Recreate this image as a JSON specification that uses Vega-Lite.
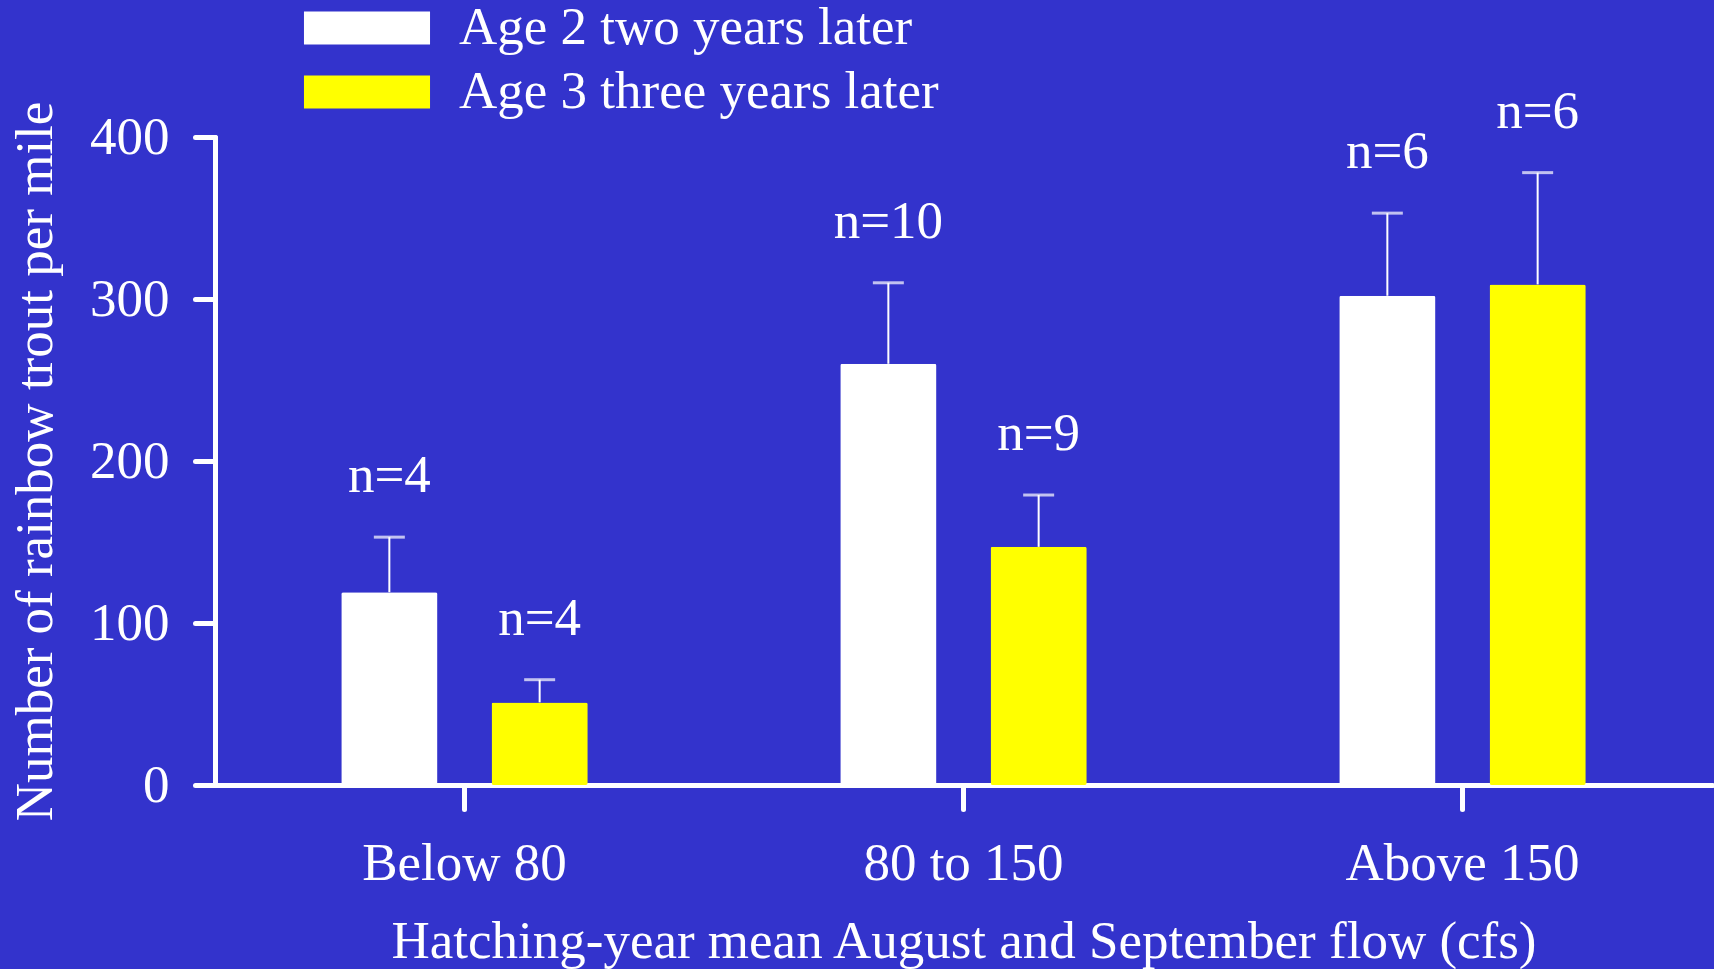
{
  "$schema": "https://vega.github.io/schema/vega-lite/v6.json",
  "width": 1497,
  "height": 648,
  "autosize": {"type": "none"},
  "padding": {"left": 215, "top": 137, "right": 2, "bottom": 184},
  "background": "#3333cc",
  "config": {
    "view": {"stroke": null},
    "font": "Liberation Serif",
    "axis": {
      "domainColor": "white", "domainWidth": 5, "domainCap": "round",
      "tickColor": "white", "tickWidth": 5, "tickCap": "round",
      "labelColor": "white", "labelFont": "Liberation Serif", "labelFontSize": 53, "labelLimit": 0,
      "titleColor": "white", "titleFont": "Liberation Serif", "titleFontSize": 53, "titleFontWeight": "normal", "titleLimit": 0,
      "grid": false
    }
  },
  "data": {
    "values": [
      {"flow": "Below 80", "group": "Age 2 two years later", "mean": 119, "upper": 153, "n": "n=4"},
      {"flow": "Below 80", "group": "Age 3 three years later", "mean": 51, "upper": 65, "n": "n=4"},
      {"flow": "80 to 150", "group": "Age 2 two years later", "mean": 260, "upper": 310, "n": "n=10"},
      {"flow": "80 to 150", "group": "Age 3 three years later", "mean": 147, "upper": 179, "n": "n=9"},
      {"flow": "Above 150", "group": "Age 2 two years later", "mean": 302, "upper": 353, "n": "n=6"},
      {"flow": "Above 150", "group": "Age 3 three years later", "mean": 309, "upper": 378, "n": "n=6"}
    ]
  },
  "encoding": {
    "x": {
      "field": "flow", "type": "nominal", "sort": ["Below 80", "80 to 150", "Above 150"],
      "scale": {"paddingInner": 0, "paddingOuter": 0},
      "axis": {"title": "Hatching-year mean August and September flow (cfs)", "labelAngle": 0, "tickSize": 24, "labelPadding": 28, "titlePadding": 25}
    },
    "xOffset": {
      "field": "group", "type": "nominal",
      "scale": {"paddingInner": 0.36, "paddingOuter": 0.84}
    }
  },
  "layer": [
    {
      "mark": {"type": "bar", "cornerRadius": 2},
      "encoding": {
        "y": {
          "field": "mean", "type": "quantitative",
          "scale": {"domain": [0, 400], "nice": false},
          "axis": {"title": "Number of rainbow trout per mile", "values": [0, 100, 200, 300, 400], "tickSize": 20, "labelPadding": 26, "titlePadding": 27}
        },
        "color": {
          "field": "group", "type": "nominal",
          "scale": {"domain": ["Age 2 two years later", "Age 3 three years later"], "range": ["#ffffff", "#ffff00"]},
          "legend": {
            "title": null, "orient": "none", "legendX": 125.5, "legendY": -135.5,
            "symbolType": "M-3.82,-1L3.82,-1L3.82,1L-3.82,1Z",
            "symbolSize": 1089, "symbolStrokeWidth": 0, "symbolOpacity": 1,
            "labelFontSize": 53, "labelColor": "white", "labelFont": "Liberation Serif",
            "labelOffset": 65.5, "labelLimit": 0, "rowPadding": 10
          }
        }
      }
    },
    {
      "mark": {"type": "rule", "color": "white", "strokeWidth": 2},
      "encoding": {
        "y": {"field": "mean", "type": "quantitative"},
        "y2": {"field": "upper"}
      }
    },
    {
      "mark": {"type": "tick", "color": "white", "size": 31, "thickness": 3, "orient": "horizontal"},
      "encoding": {
        "y": {"field": "upper", "type": "quantitative"}
      }
    },
    {
      "mark": {"type": "text", "color": "white", "fontSize": 53, "font": "Liberation Serif", "dy": -61, "baseline": "middle"},
      "encoding": {
        "y": {"field": "upper", "type": "quantitative"},
        "text": {"field": "n"}
      }
    }
  ]
}
